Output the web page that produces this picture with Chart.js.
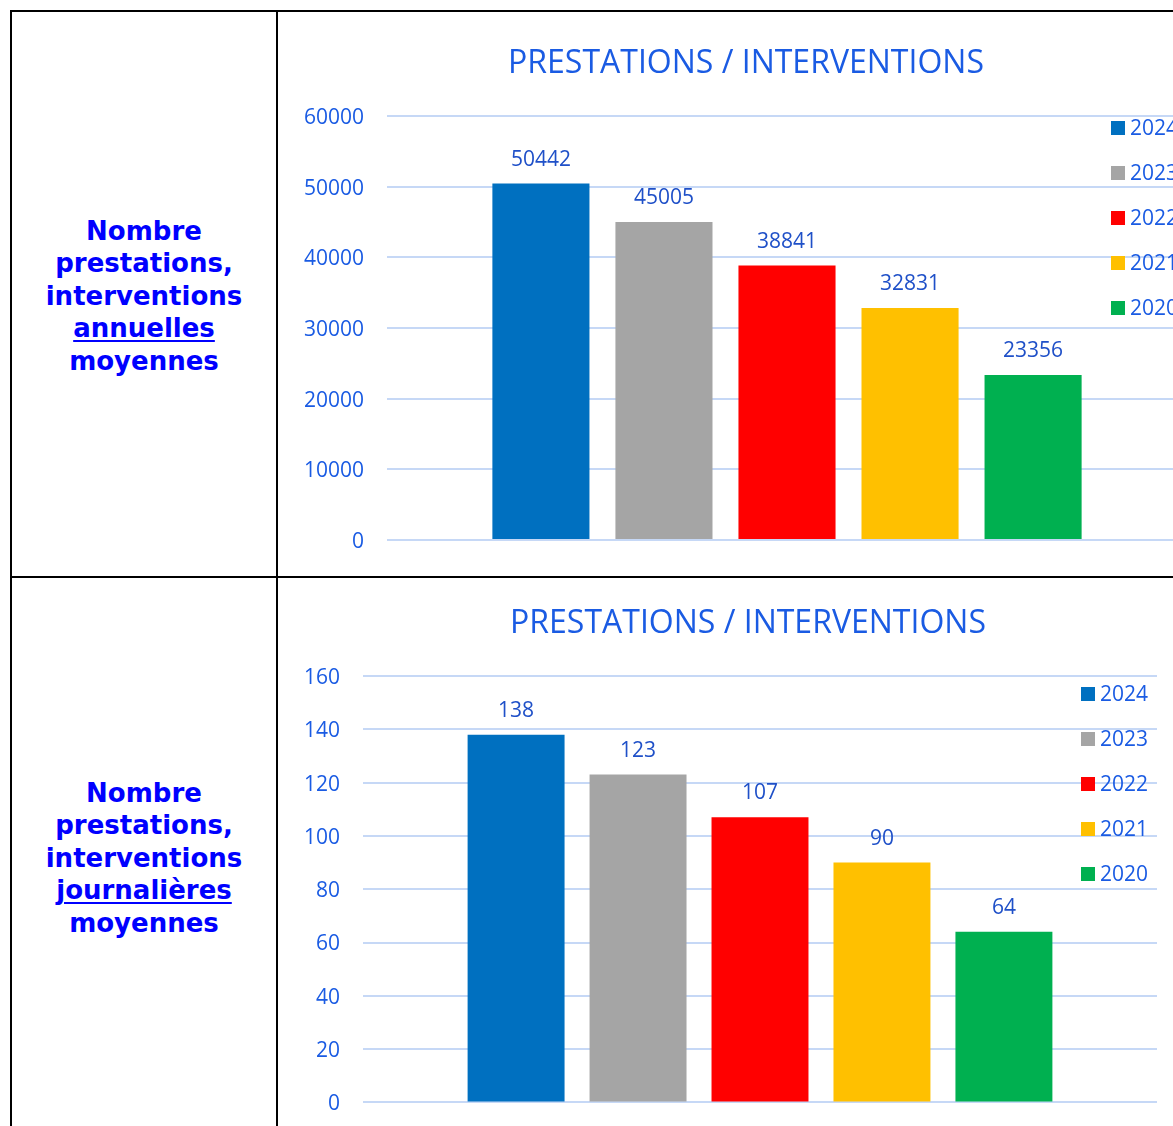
<!DOCTYPE html>
<html lang="fr">
<head>
    <meta charset="UTF-8">
    <title>Prestations / Interventions</title>
    <script src="https://cdn.jsdelivr.net/npm/chart.js@4.4.0/dist/chart.umd.min.js"></script>
    <style>
        html, body {
            margin: 0;
            padding: 0;
            width: 1173px;
            height: 1126px;
            overflow: hidden;
            background: #fff;
        }
        .line { position: absolute; background: #000; }
        .label-cell {
            position: absolute;
            left: 12px;
            width: 264px;
            display: flex;
            align-items: center;
            justify-content: center;
            text-align: center;
            font-family: "DejaVu Sans", Verdana, sans-serif;
            font-weight: bold;
            font-size: 26px;
            line-height: 32.5px;
            color: #0000ff;
        }
        .label-cell u { text-decoration-thickness: 2px; text-underline-offset: 3px; }
        .chart-box { position: absolute; left: 278px; }
    </style>
</head>
<body>
    <!-- table borders -->
    <div class="line" style="left:10px; top:10px; width:1163px; height:2px;"></div>
    <div class="line" style="left:10px; top:10px; width:2px; height:1116px;"></div>
    <div class="line" style="left:276px; top:10px; width:2px; height:1116px;"></div>
    <div class="line" style="left:10px; top:576px; width:1163px; height:2px;"></div>

    <div class="label-cell" style="top:14px; height:564px;">
        <div>Nombre<br>prestations,<br>interventions<br><u>annuelles</u><br>moyennes</div>
    </div>
    <div class="label-cell" style="top:580px; height:556px;">
        <div>Nombre<br>prestations,<br>interventions<br><u>journalières</u><br>moyennes</div>
    </div>

    <div class="chart-box" style="top:12px; width:936px; height:564px;">
        <canvas id="annualChart"></canvas>
    </div>
    <div class="chart-box" style="top:578px; width:940px; height:560px;">
        <canvas id="dailyChart"></canvas>
    </div>

    <script>
        // Data
        const years = ['2024', '2023', '2022', '2021', '2020'];
        const yearColors = ['#0070C0', '#A5A5A5', '#FF0000', '#FFC000', '#00B050'];
        const annualValues = [50442, 45005, 38841, 32831, 23356];
        const dailyValues = [138, 123, 107, 90, 64];
        const chartTitle = 'PRESTATIONS / INTERVENTIONS';
        const annualAxis = { max: 60000, step: 10000 };
        const dailyAxis = { max: 160, step: 20 };

        const textBlue = '#1a5be3';
        const labelBlue = '#1f50c8';
        const gridBlue = '#c6d8f6';
        const fontFamily = '"Open Sans", "Noto Sans", sans-serif';

        // title centred on the whole chart object (not on the padded box)
        const fixedTitle = {
            id: 'fixedTitle',
            afterDraw(chart, args, opts) {
                const ctx = chart.ctx;
                ctx.save();
                ctx.font = '32px ' + fontFamily;
                ctx.fillStyle = textBlue;
                ctx.textAlign = 'center';
                ctx.textBaseline = 'middle';
                ctx.fillText(opts.text, chart.width / 2, opts.y);
                ctx.restore();
            }
        };

        // value labels above each bar
        const valueLabels = {
            id: 'valueLabels',
            afterDatasetsDraw(chart) {
                const ctx = chart.ctx;
                ctx.save();
                ctx.font = '21px ' + fontFamily;
                ctx.fillStyle = labelBlue;
                ctx.textAlign = 'center';
                ctx.textBaseline = 'middle';
                chart.data.datasets.forEach((ds, i) => {
                    chart.getDatasetMeta(i).data.forEach((bar, j) => {
                        ctx.fillText(ds.data[j], bar.x, bar.y - 24);
                    });
                });
                ctx.restore();
            }
        };

        // legend drawn over the plot, like the original
        const sideLegend = {
            id: 'sideLegend',
            afterDraw(chart, args, opts) {
                const ctx = chart.ctx;
                ctx.save();
                ctx.font = '21px ' + fontFamily;
                ctx.textBaseline = 'middle';
                ctx.textAlign = 'left';
                chart.data.datasets.forEach((ds, i) => {
                    const y = opts.y + i * 45;
                    ctx.fillStyle = ds.backgroundColor;
                    ctx.fillRect(opts.x, y - 7, 14, 14);
                    ctx.fillStyle = textBlue;
                    ctx.fillText(ds.label, opts.x + 19, y + 1.5);
                });
                ctx.restore();
            }
        };

        function makeChart(id, values, axis, cfg) {
            const datasets = years.map((y, i) => ({
                label: y,
                data: [values[i]],
                backgroundColor: yearColors[i],
                categoryPercentage: cfg.catPct,
                barPercentage: cfg.barPct
            }));
            return new Chart(document.getElementById(id), {
                type: 'bar',
                data: { labels: [''], datasets: datasets },
                plugins: [valueLabels, sideLegend, fixedTitle],
                options: {
                    responsive: true,
                    maintainAspectRatio: false,
                    animation: false,
                    layout: { padding: { left: 0, right: cfg.padRight, top: cfg.padTop, bottom: cfg.padBottom } },
                    plugins: {
                        legend: { display: false },
                        tooltip: { enabled: false },
                        title: { display: false },
                        fixedTitle: { text: chartTitle, y: cfg.titleY },
                        sideLegend: { x: cfg.legendX, y: cfg.legendY }
                    },
                    scales: {
                        x: { display: false },
                        y: {
                            min: 0,
                            max: axis.max,
                            ticks: {
                                stepSize: axis.step,
                                color: textBlue,
                                padding: 23,
                                labelOffset: 2,
                                font: { family: fontFamily, size: 21 },
                                callback: v => String(v)
                            },
                            grid: { color: gridBlue, lineWidth: 2, drawTicks: false },
                            border: { display: false },
                            afterFit(scale) { scale.width = cfg.axisWidth; }
                        }
                    }
                }
            });
        }

        makeChart('annualChart', annualValues, annualAxis, {
            catPct: 0.769, barPct: 0.789,
            padTop: 104, padRight: 27, padBottom: 36,
            titleY: 52,
            axisWidth: 109,
            legendX: 833, legendY: 116
        });

        makeChart('dailyChart', dailyValues, dailyAxis, {
            catPct: 0.768, barPct: 0.795,
            padTop: 98, padRight: 61, padBottom: 35,
            titleY: 46,
            axisWidth: 85,
            legendX: 803, legendY: 116
        });
    </script>
</body>
</html>
